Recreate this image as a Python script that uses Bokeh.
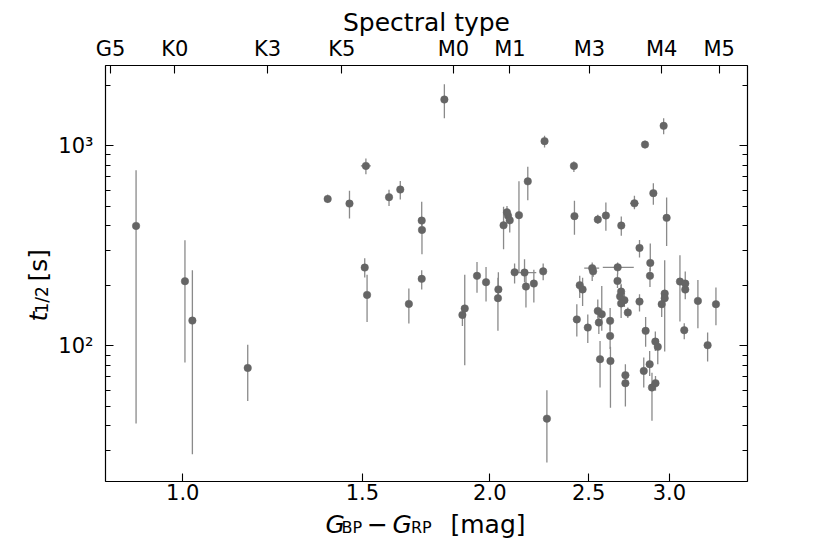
import math
from bokeh.plotting import figure
from bokeh.layouts import column, row
from bokeh.models import (ColumnDataSource, LogAxis, FixedTicker, Range1d,
                          PrintfTickFormatter)
from bokeh.core.properties import value
from bokeh.embed import file_html
from bokeh.resources import INLINE

# ---------------- data ----------------
bp_rp = [0.900, 1.005, 1.022, 1.158, 1.387, 1.457, 1.512, 1.508, 1.516, 1.593,
         1.634, 1.666, 1.715, 1.716, 1.715, 1.805, 1.880, 1.890, 1.943, 1.983,
         2.039, 2.037, 2.063, 2.084, 2.092, 2.079, 2.136, 2.115, 2.163, 2.170,
         2.179, 2.209, 2.256, 2.263, 2.275, 2.418, 2.421, 2.434, 2.450, 2.466,
         2.495, 2.520, 2.525, 2.552, 2.599, 2.552, 2.575, 2.558, 2.565, 2.624,
         2.624, 2.626, 2.669, 2.668, 2.690, 2.684, 2.710, 2.690, 2.731, 2.691,
         2.716, 2.716, 2.772, 2.804, 2.804, 2.831, 2.839, 2.843, 2.869, 2.873,
         2.871, 2.884, 2.893, 2.907, 2.906, 2.922, 2.948, 2.961, 2.968, 2.968,
         2.981, 3.072, 3.109, 3.109, 3.102, 3.199, 3.270, 3.332]

t_half = [398, 210.6, 133.8, 77.6, 543, 514.5, 794, 246.4, 179.9, 554,
          604.7, 162.2, 423, 380, 216.3, 1704, 142.9, 153.9, 223.9, 208.2,
          191.6, 173.2, 400.5, 446.7, 424.2, 465, 450.4, 233.1, 232.6, 197.9,
          664.4, 204.9, 235.8, 1055.6, 43.3, 794, 445.2, 135.7, 201.1, 191.6,
          123.5, 244.7, 235.8, 428.1, 448.3, 149.6, 144.0, 130.8, 85.8, 133.4,
          112.2, 84.1, 246.9, 211.3, 186.9, 176.8, 169.3, 163.1, 146.7, 399.5,
          71.4, 65.1, 515.8, 309, 166.5, 75.0, 1015, 118.9, 81.0, 260,
          223.9, 61.9, 580, 65.1, 105.1, 98.9, 161.6, 1259, 182.6, 173.2,
          436.5, 209.6, 204.9, 191.2, 119.8, 167.9, 100.8, 161.6]

t_lo = [40.9, 82.5, 28.7, 53.1, 519, 433, 722, 219.5, 131.8, 501,
        538.8, 129.3, 398, 287.4, 191.2, 1375, 125.9, 80.1, 184.1, 166.9,
        167.9, 118.9, 304.5, 412, 368.6, 431.5, 231.7, 204.9, 207.3, 155.7,
        535, 165, 213, 980.6, 26.1, 741, 358.9, 111.5, 173.8, 158.5,
        103.5, 211.3, 221.3, 407.4, 375.8, 136.5, 118.9, 114.8, 61.9, 118.9,
        96.6, 49.1, 228.3, 195, 173.8, 164.1, 156.7, 138.0, 138.0, 354.8,
        66.8, 49.8, 482.6, 276.4, 148.4, 61.9, 971.6, 98.9, 70.8, 237.1,
        197.2, 42.2, 507, 59.6, 94.4, 81.0, 139.6, 1144, 167.9, 93.7,
        316.2, 132.3, 188.4, 171.2, 108.0, 122.6, 83.5, 126.9]

t_hi = [756, 337.7, 239, 101.2, 569, 595.7, 864, 274.5, 226.5, 602.6,
        668, 193.4, 524.8, 412, 239, 2034, 158.5, 226.5, 263, 248.3,
        233.1, 218.8, 495.5, 484, 457, 501, 664.4, 258.5, 271.3, 228.3,
        785, 239.9, 257.9, 1122, 60.0, 834.6, 530.9, 161.3, 223.9, 218.8,
        143.7, 260.9, 254.1, 451.9, 520.6, 170.8, 199.5, 153.1, 105.9, 154.9,
        130.3, 98.9, 260.9, 229.1, 201.8, 192.8, 184.1, 204.2, 155.4, 443.1,
        81.0, 70.0, 562.3, 338.8, 181.4, 87.4, 1059, 139.6, 94.4, 324.8,
        245.5, 73.5, 651, 70.8, 117.9, 108.4, 182, 1375, 268.2, 188.4,
        551.3, 284.1, 235.3, 206.5, 129.9, 213.8, 116.6, 195.6]

# points that also carry a colour error bar (0-based index)
xerr_idx = [6, 28, 41, 52, 62]
xerr_lo = [1.495, 2.109, 2.475, 2.581, 2.745]
xerr_hi = [1.529, 2.221, 2.560, 2.768, 2.798]

x_ticks = [1.0, 1.5, 2.0, 2.5, 3.0]
y_major = [100, 1000]
y_minor = [30, 40, 50, 60, 70, 80, 90, 200, 300, 400, 500, 600, 700, 800, 900, 2000]
y_labels = {100: "10²", 1000: "10³"}
sp_pos = [0.8495, 0.9821, 1.2110, 1.4316, 1.8424, 2.0932, 2.5043, 2.9479, 3.3563]
sp_names = ["G5", "K0", "K3", "K5", "M0", "M1", "M3", "M4", "M5"]

FONT = "DejaVu Sans"
W, H = 830, 540
YLAB_W = 55
XLAB_H = 31

# ---------------- main figure ----------------
p = figure(width=W - YLAB_W, height=H - XLAB_H, x_axis_type="log", y_axis_type="log",
           x_range=Range1d(0.840, 3.578), y_range=Range1d(21, 2521),
           output_backend="svg", toolbar_location=None,
           min_border_left=48, min_border_right=83, min_border_top=65, min_border_bottom=28)
p.grid.visible = False
p.outline_line_color = "black"
p.outline_line_width = 1.2
p.background_fill_color = "white"
p.border_fill_color = "white"

def style_axis(ax):
    ax.axis_line_color = None
    ax.major_tick_in = 8
    ax.major_tick_out = 0
    ax.minor_tick_in = 5
    ax.minor_tick_out = 0
    ax.major_tick_line_color = "black"
    ax.minor_tick_line_color = "black"
    ax.major_tick_line_width = 1.1
    ax.minor_tick_line_width = 1.0
    ax.major_label_text_font = FONT
    ax.major_label_text_font_size = "21px"
    ax.major_label_text_color = "black"

xa = p.xaxis[0]
xa.ticker = FixedTicker(ticks=x_ticks, minor_ticks=[])
xa.formatter = PrintfTickFormatter(format="%.1f")
style_axis(xa)
xa.major_label_standoff = 2

ya = p.yaxis[0]
ya.ticker = FixedTicker(ticks=y_major, minor_ticks=y_minor)
ya.major_label_overrides = y_labels
style_axis(ya)
ya.major_label_standoff = 12

top = LogAxis(ticker=FixedTicker(ticks=sp_pos, minor_ticks=[]),
              major_label_overrides=dict(zip(sp_pos, sp_names)),
              axis_label="Spectral type")
style_axis(top)
top.major_label_standoff = 5
top.axis_label_text_font = FONT
top.axis_label_text_font_size = "25px"
top.axis_label_text_font_style = "normal"
top.axis_label_text_color = "black"
top.axis_label_standoff = -3
p.add_layout(top, "above")

right = LogAxis(ticker=FixedTicker(ticks=y_major, minor_ticks=y_minor))
style_axis(right)
right.major_label_text_color = None
p.add_layout(right, "right")

src = ColumnDataSource(dict(x=bp_rp, y=t_half, lo=t_lo, hi=t_hi))
p.segment(x0="x", y0="lo", x1="x", y1="hi", source=src,
          line_color="#8a8a8a", line_width=1.3)
hsrc = ColumnDataSource(dict(y=[t_half[i] for i in xerr_idx], x0=xerr_lo, x1=xerr_hi))
p.segment(x0="x0", y0="y", x1="x1", y1="y", source=hsrc,
          line_color="#8a8a8a", line_width=1.3)
p.scatter(x="x", y="y", source=src, size=7.5, fill_color="#656565",
          line_color="#656565", line_width=0.5)

# ---------------- label strips (pixel-like ranges) ----------------
def strip(w, h):
    f = figure(width=w, height=h, x_range=Range1d(0, w), y_range=Range1d(0, h),
               x_axis_location=None, y_axis_location=None, min_border=0,
               output_backend="svg", toolbar_location=None)
    f.outline_line_color = None
    f.grid.visible = False
    f.background_fill_color = "white"
    f.border_fill_color = "white"
    return f

def txt(f, x, y, s, size, style="normal", angle=0.0):
    f.text(x=[x], y=[y], text=[s], angle=angle, text_font=value(FONT),
           text_font_size=value(size), text_font_style=style, text_color="black",
           text_align="left", text_baseline="alphabetic")

SHIFT = 8  # compensates the baseline offset seen in the rendered text glyphs
YH = H - XLAB_H

# y label  t_{1/2} [s]
yl = strip(YLAB_W, YH)
ybase = 46 - SHIFT
txt(yl, ybase, YH - 313.3, "t", "25px", "italic", math.pi / 2)
txt(yl, ybase + 3.5, YH - 303.5, "1/2", "17px", "normal", math.pi / 2)
txt(yl, ybase, YH - 264.3, "[s]", "25px", "normal", math.pi / 2)

# x label  G_BP - G_RP [mag]
xl = strip(W, XLAB_H)
xbase = 540 - 531.7 + SHIFT
txt(xl, 325, xbase, "G", "25px", "italic")
txt(xl, 341, xbase - 3.5, "BP", "16px")
txt(xl, 366.5, xbase, "\u2212", "25px")
txt(xl, 392, xbase, "G", "25px", "italic")
txt(xl, 410.5, xbase - 3.5, "RP", "16px")
txt(xl, 450, xbase, "[mag]", "25px")

layout = column(row(yl, p, spacing=0), xl, spacing=0)
open("out.html", "w").write(file_html(layout, INLINE))
